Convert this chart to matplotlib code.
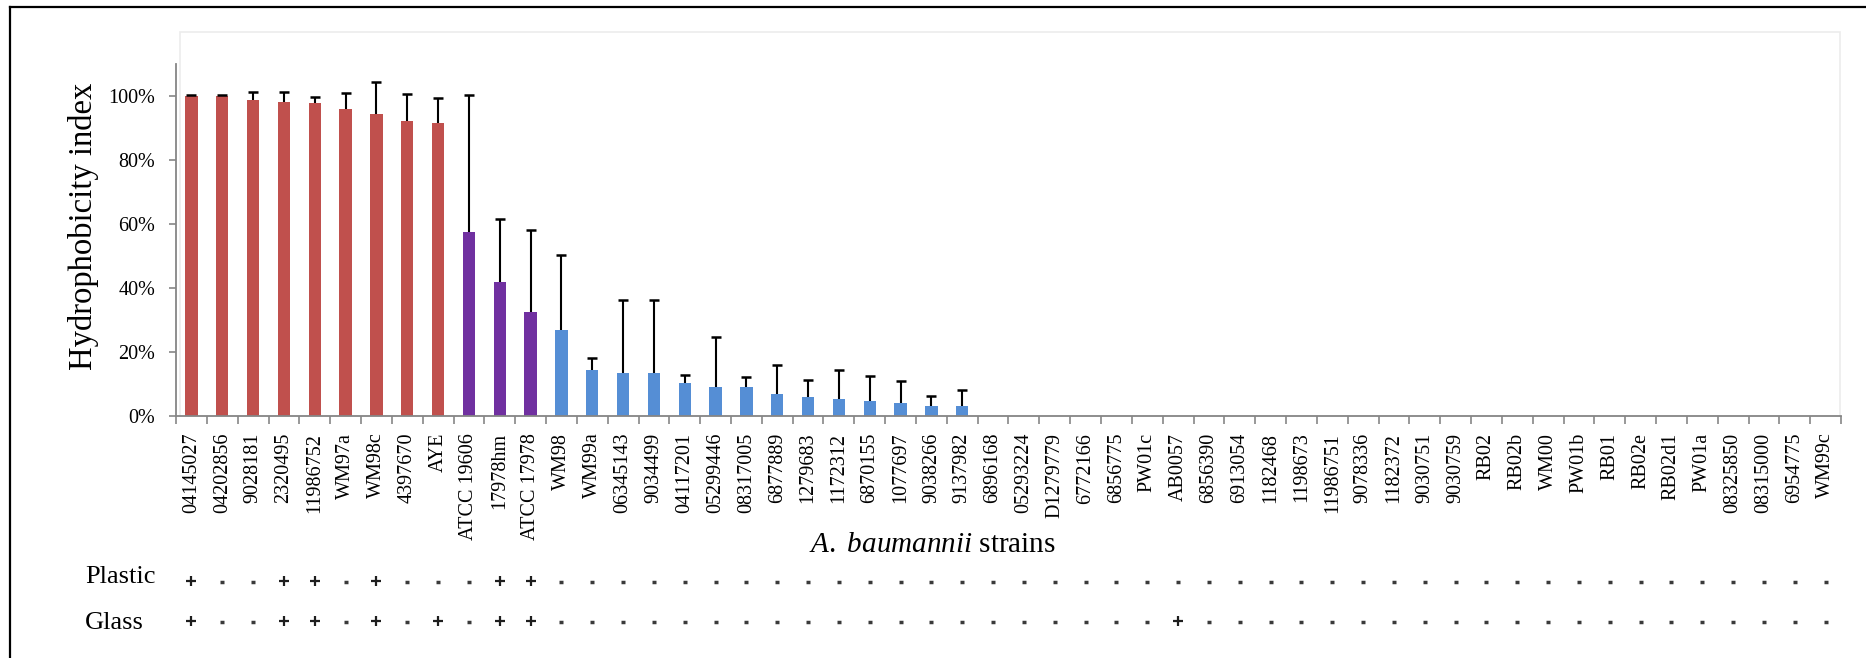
import numpy as np
import matplotlib.pyplot as plt
from matplotlib.lines import Line2D
from matplotlib.patches import Rectangle
from matplotlib.transforms import blended_transform_factory

plt.rcParams['font.family'] = ['Liberation Serif', 'DejaVu Serif']
plt.rcParams['mathtext.fontset'] = 'custom'
plt.rcParams['mathtext.rm'] = 'Liberation Serif'
plt.rcParams['mathtext.it'] = 'Liberation Serif:italic'

# strains, ordered by hydrophobicity
strains = ['04145027', '04202856', '9028181', '2320495', '11986752', 'WM97a', 'WM98c',
           '4397670', 'AYE', 'ATCC 19606', '17978hm', 'ATCC 17978', 'WM98', 'WM99a',
           '06345143', '9034499', '04117201', '05299446', '08317005', '6877889', '1279683',
           '1172312', '6870155', '1077697', '9038266', '9137982', '6896168', '05293224',
           'D1279779', '6772166', '6856775', 'PW01c', 'AB0057', '6856390', '6913054',
           '1182468', '1198673', '11986751', '9078336', '1182372', '9030751', '9030759',
           'RB02', 'RB02b', 'WM00', 'PW01b', 'RB01', 'RB02e', 'RB02d1', 'PW01a',
           '08325850', '08315000', '6954775', 'WM99c']

# hydrophobicity index (%) and upper error (%)
hydro = [100, 100, 98.8, 98.1, 97.8, 95.8, 94.3, 92.3, 91.5, 57.4, 41.9, 32.4, 26.9,
         14.4, 13.4, 13.4, 10.2, 9.0, 9.0, 6.8, 5.8, 5.2, 4.6, 4.0, 3.0, 3.0] + [0] * 28
err = [0.3, 0.3, 2.3, 3.2, 1.9, 5.2, 10.1, 8.2, 7.9, 42.8, 19.6, 25.7, 23.3,
       3.8, 23.0, 23.0, 2.5, 15.8, 3.1, 9.2, 5.3, 9.2, 7.8, 6.8, 3.1, 5.2] + [0] * 28

# group of each strain: high / intermediate / low
groups = ['high'] * 9 + ['mid'] * 3 + ['low'] * 42
group_colors = {'high': '#C0504D', 'mid': '#7030A0', 'low': '#558ED5'}

# biofilm formation on plastic and glass
plastic = ['+', '-', '-', '+', '+', '-', '+', '-', '-', '-', '+', '+'] + ['-'] * 42
glass = (['+', '-', '-', '+', '+', '-', '+', '-', '+', '-', '+', '+'] + ['-'] * 20
         + ['+'] + ['-'] * 21)

W, H = 1866, 658
fig = plt.figure(figsize=(W / 100, H / 100), dpi=100)


def fx(px):
    return px / W


def fy(py):
    return 1 - py / H


axis_gray = '#868686'
ax = fig.add_axes([fx(176), fy(416), fx(1841) - fx(176), (416 - 32) / H])

x = np.arange(len(strains))
y = np.array(hydro) / 100
e = np.array(err) / 100
colors = [group_colors[g] for g in groups]
ax.bar(x, y, width=0.4, color=colors, zorder=2)

# upper error bars only
m = y > 0
ax.vlines(x[m], y[m], y[m] + e[m], color='black', lw=1.5, zorder=3)
ax.plot(x[m], y[m] + e[m], ls='none', marker='_', ms=7, mew=1.8, color='black', zorder=3)

ax.set_xlim(-0.5, len(strains) - 0.5)
ax.set_ylim(0, 1.2)
for s in ['top', 'right']:
    ax.spines[s].set_visible(False)
ax.spines['left'].set_bounds(0, 1.1)
for s in ['left', 'bottom']:
    ax.spines[s].set_color(axis_gray)
    ax.spines[s].set_linewidth(1.3)
ax.patch.set_alpha(0)

yt = [0, 0.2, 0.4, 0.6, 0.8, 1.0]
ax.set_yticks(yt)
ax.set_yticklabels(['%d%%' % round(v * 100) for v in yt], fontsize=14.5)
ax.tick_params(axis='y', direction='out', length=5, width=1.2, color=axis_gray, pad=10)

ax.set_xticks(x)
ax.set_xticklabels(strains, rotation=90, fontsize=14.5)
ax.tick_params(axis='x', which='major', length=0, pad=12)
ax.set_xticks(np.arange(-0.5, len(strains), 1), minor=True)
ax.tick_params(axis='x', which='minor', direction='out', length=6, width=1.2, color=axis_gray)

# faint plot-area border
fig.add_artist(Rectangle((fx(180), fy(416)), fx(1840) - fx(180), (416 - 32) / H,
                         transform=fig.transFigure, fill=False, edgecolor='#ececec',
                         lw=1.2, zorder=0))

# outer frame (left and top edges)
fig.add_artist(Line2D([fx(10), fx(10)], [fy(7), 0], color='black', lw=1.6))
fig.add_artist(Line2D([fx(10), 1], [fy(7), fy(7)], color='black', lw=1.6))

fig.text(fx(84), fy(226), 'Hydrophobicity index', rotation=90, ha='center', va='center',
         fontsize=23.5)
fig.text(fx(932), fy(545), r'$\mathit{A.\ baumannii}$ strains', ha='center', va='center',
         fontsize=21)

# plastic / glass rows
trans = blended_transform_factory(ax.transData, fig.transFigure)
for name, row, ypx, ty in [('Plastic', plastic, 581, 577), ('Glass', glass, 621, 623)]:
    fig.text(fx(85), fy(ty), name, ha='left', va='center', fontsize=19)
    row = np.array(row)
    xp = x[row == '+']
    xm = x[row == '-']
    ax.plot(xp, [fy(ypx)] * len(xp), transform=trans, ls='none', marker='+', ms=7.5,
            mew=1.6, color='#1e1e1e', clip_on=False)
    ax.plot(xm, [fy(ypx + 1)] * len(xm), transform=trans, ls='none', marker='_', ms=3.5,
            mew=2.5, color='#3a3a3a', clip_on=False)

fig.savefig('out.png', dpi=100)
